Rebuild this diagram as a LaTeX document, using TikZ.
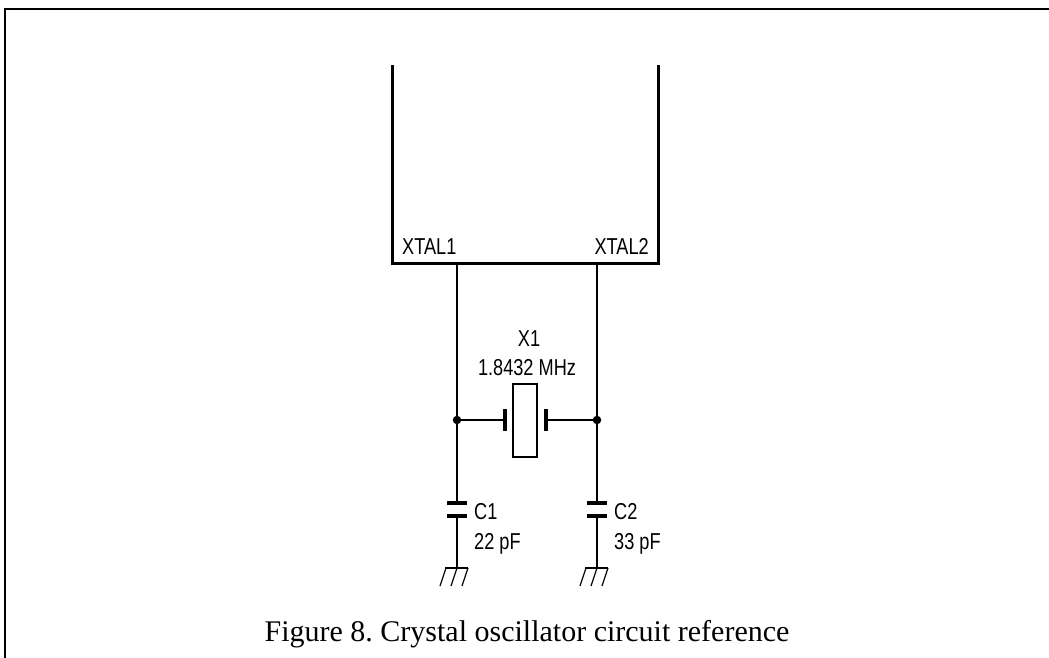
\documentclass[tikz,border=0pt]{standalone}
\usepackage{fontspec}
\setmainfont{Liberation Serif}
\newfontfamily\labfont[FakeStretch=0.79]{Liberation Sans}
\frenchspacing
\begin{document}
\begin{tikzpicture}[x=1pt,y=-1pt,
  wire/.style={line width=1.4pt},
  thick wire/.style={line width=3pt},
  plate/.style={line width=3.5pt},
  frame/.style={line width=2pt},
  lab/.style={inner sep=0pt,font=\labfont\fontsize{23}{23}\selectfont},
  dot/.style={circle,fill=black,inner sep=0pt,minimum size=8.5pt},
  gnd/.style={line width=1.2pt}]
\useasboundingbox (0,0) rectangle (1049,658);
% frame
\draw[frame] (5,658) -- (5,9) -- (1049,9);
% chip outline
\coordinate (chipTL) at (392,65);
\coordinate (chipTR) at (658,65);
\draw[thick wire] (chipTL) -- (392,263) -- (658,263) -- (chipTR);
\node[lab,anchor=base west] (x1lab) at (402,254) {XTAL1};
\node[lab,anchor=base east] (x2lab) at (649,254) {XTAL2};
% pins
\coordinate (p1) at (457,263);
\coordinate (p2) at (597,263);
\coordinate (j1c) at (457,420);
\coordinate (j2c) at (597,420);
% crystal
\coordinate (xl) at (505,420);
\coordinate (xr) at (546,420);
\draw[wire] (p1) -- (j1c);
\draw[wire] (p2) -- (j2c);
\draw[wire] (j1c) -- (xl);
\draw[wire] (j2c) -- (xr);
\draw[plate] (505,409) -- (505,431);
\draw[plate] (546,409) -- (546,431);
\node[draw,line width=1.3pt,minimum width=24pt,minimum height=73pt,inner sep=0pt] (xtal) at (525,420.5) {};
\node[lab,anchor=base] (xname) at (529,346) {X1};
\node[lab,anchor=base] (xval) at (527,375) {1.8432 MHz};
% capacitors
\foreach \n/\x/\name/\val in {1/457/C1/22 pF, 2/597/C2/33 pF}{
  \coordinate (ct\n) at (\x,503);
  \coordinate (cb\n) at (\x,516);
  \coordinate (g\n) at (\x,568);
  \draw[wire] (j\n c) -- (ct\n);
  \draw[wire] (cb\n) -- (g\n);
  \draw[plate] (\x-10,503) -- (\x+10,503);
  \draw[plate] (\x-10,516) -- (\x+10,516);
  \draw[gnd] (\x-12,568) -- (\x+11,568);
  \draw[gnd] (\x-11,568) -- (\x-17,586);
  \draw[gnd] (\x,568) -- (\x-6,586);
  \draw[gnd] (\x+11,568) -- (\x+5,586);
  \node[lab,anchor=base west] (cn\n) at (\x+17,519) {\name};
  \node[lab,anchor=base west] (cv\n) at (\x+17,549) {\val};
  \node[dot] (j\n) at (j\n c) {};
}
% caption
\node[inner sep=0pt,anchor=base,font=\fontsize{30}{30}\selectfont] (cap) at (527,641) {Figure 8. Crystal oscillator circuit reference};
\end{tikzpicture}
\end{document}
